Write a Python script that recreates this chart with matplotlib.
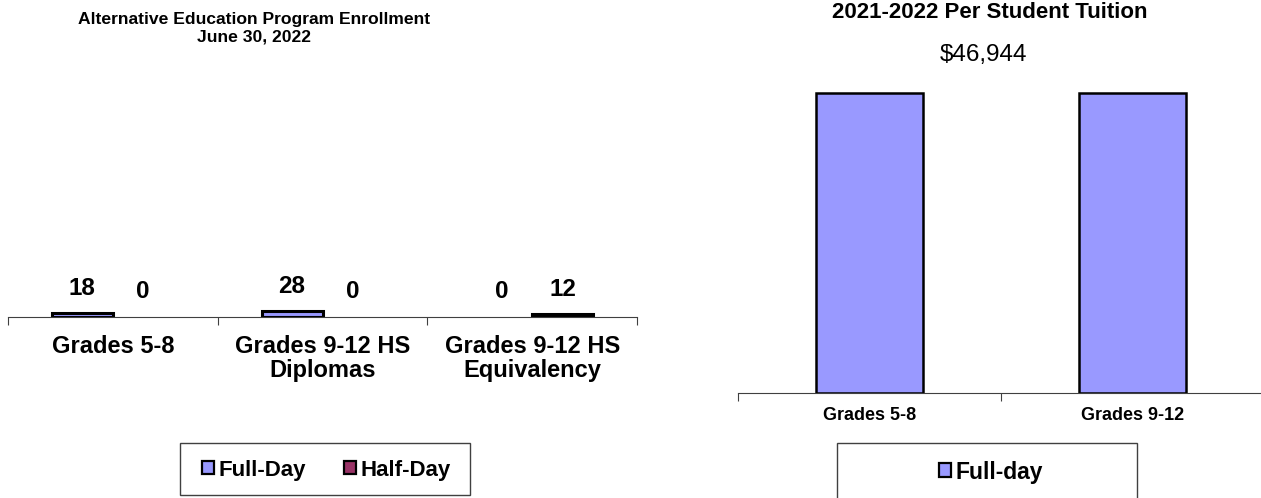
import matplotlib
matplotlib.use("Agg")
import matplotlib.pyplot as plt
from matplotlib.patches import Rectangle, Patch
import numpy as np

plt.rcParams['font.family'] = ['Liberation Sans', 'DejaVu Sans']

# ---- data ----
enroll_categories = ["Grades 5-8", "Grades 9-12 HS\nDiplomas", "Grades 9-12 HS\nEquivalency"]
full_day = [18, 28, 0]
half_day = [0, 0, 12]
enroll_series = ["Full-Day", "Half-Day"]

tuition_categories = ["Grades 5-8", "Grades 9-12"]
tuition_full_day = [46944, 46944]
tuition_series = ["Full-day"]

left_title = "Alternative Education Program Enrollment\nJune 30, 2022"
right_title = "2021-2022 Per Student Tuition"

C_FULL = "#9999FF"
C_HALF = "#993366"

W, H = 1261, 498
fig = plt.figure(figsize=(W / 100, H / 100), dpi=100)

def px_axes(x0, x1, ybottom, ytop):
    return fig.add_axes([x0 / W, (H - ybottom) / H, (x1 - x0) / W, (ybottom - ytop) / H])

# ---------------- left chart ----------------
ax = px_axes(8, 637, 317, 60)
x = np.arange(len(enroll_categories))
bw = 0.29
def lw(vals):
    return [2.2 if v else 0 for v in vals]
b1 = ax.bar(x - bw / 2, full_day, bw, color=C_FULL, edgecolor="black", linewidth=lw(full_day))
b2 = ax.bar(x + bw / 2, half_day, bw, color=C_HALF, edgecolor="black", linewidth=lw(half_day))
ax.set_xlim(-0.5, len(enroll_categories) - 0.5)
ax.set_ylim(0, 1200)
for bars, vals in ((b1, full_day), (b2, half_day)):
    for rect, v in zip(bars, vals):
        ax.annotate(f"{v}", (rect.get_x() + rect.get_width() / 2, v),
                    xytext=(0, 18), textcoords="offset points",
                    ha="center", va="center", fontsize=17.5, fontweight="bold")
for s in ("top", "right", "left"):
    ax.spines[s].set_visible(False)
ax.spines["bottom"].set_color("#404040")
ax.set_yticks([])
ax.set_xticks(np.arange(-0.5, len(enroll_categories), 1.0))
ax.set_xticklabels([])
ax.tick_params(axis="x", which="major", length=6, color="#404040", direction="out")
ax.set_xticks(x, minor=True)
ax.set_xticklabels(enroll_categories, minor=True, fontsize=17, fontweight="bold",
                   linespacing=1.08, va="top")
ax.tick_params(axis="x", which="minor", length=0, pad=13)
fig.text(254 / W, 1 - 28 / H, left_title, ha="center", va="center",
         fontsize=12.6, fontweight="bold", linespacing=1.22)

# left legend
fig.patches.append(Rectangle((180 / W, 1 - 495 / H), 290 / W, 52 / H, transform=fig.transFigure,
                             facecolor="white", edgecolor="#404040", linewidth=1.0))
handles = [Patch(facecolor=C_FULL, edgecolor="black", linewidth=1.6),
           Patch(facecolor=C_HALF, edgecolor="black", linewidth=1.6)]
fig.legend(handles, enroll_series, loc="center", bbox_to_anchor=(326 / W, 1 - 470 / H),
           ncol=2, frameon=False, prop={"weight": "bold", "size": 16},
           handlelength=0.55, handleheight=0.55, handletextpad=0.2, columnspacing=1.7)

# ---------------- right chart ----------------
ax2 = px_axes(738, 1264, 393, 73)
x2 = np.arange(len(tuition_categories))
bw2 = 0.405
ax2.bar(x2, tuition_full_day, bw2, color=C_FULL, edgecolor="black", linewidth=1.8)
ax2.set_xlim(-0.5, len(tuition_categories) - 0.5)
ax2.set_ylim(0, 50000)
for s in ("top", "right", "left"):
    ax2.spines[s].set_visible(False)
ax2.spines["bottom"].set_color("#404040")
ax2.set_yticks([])
ax2.set_xticks(np.arange(-0.5, len(tuition_categories), 1.0))
ax2.set_xticklabels([])
ax2.tick_params(axis="x", which="major", length=6, color="#404040", direction="out")
ax2.set_xticks(x2, minor=True)
ax2.set_xticklabels(tuition_categories, minor=True, fontsize=13, fontweight="bold")
ax2.tick_params(axis="x", which="minor", length=0, pad=10)
fig.text(990 / W, 1 - 12 / H, right_title, ha="center", va="center",
         fontsize=16, fontweight="bold")
fig.text(983 / W, 1 - 55 / H, f"${tuition_full_day[0]:,}", ha="center", va="center",
         fontsize=17.5)

fig.patches.append(Rectangle((837 / W, 1 - 510 / H), 300 / W, 67 / H, transform=fig.transFigure,
                             facecolor="white", edgecolor="#404040", linewidth=1.0, clip_on=False))
fig.legend([Patch(facecolor=C_FULL, edgecolor="black", linewidth=1.6)], tuition_series,
           loc="center", bbox_to_anchor=(991 / W, 1 - 472 / H), frameon=False,
           prop={"weight": "bold", "size": 16.5},
           handlelength=0.55, handleheight=0.55, handletextpad=0.2)

fig.savefig("out.png", dpi=100, facecolor="white")
